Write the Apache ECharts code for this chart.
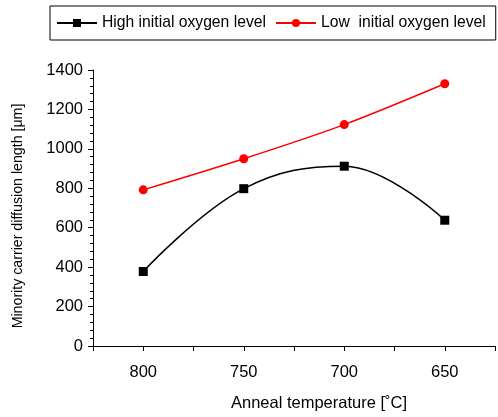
<!DOCTYPE html>
<html>
<head>
<meta charset="utf-8">
<script src="https://cdn.jsdelivr.net/npm/echarts@6/dist/echarts.min.js"></script>
<style>
html,body{margin:0;padding:0;background:#fff;}
#chart{width:498px;height:417px;}
</style>
</head>
<body>
<div id="chart"></div>
<script>
var temperatures = [800, 750, 700, 650];
var highOxygen = [378, 798, 912, 638];
var lowOxygen = [792, 950, 1123, 1330];
var seriesNames = ['High initial oxygen level', 'Low  initial oxygen level'];
var xAxisName = 'Anneal temperature [\u02DAC]';
var yAxisName = 'Minority carrier diffusion length [\u03BCm]';

function pairs(xs, ys) {
  return xs.map(function (x, i) { return [x, ys[i]]; });
}

var FONT = '"Liberation Sans", Arial, sans-serif';
var chart = echarts.init(document.getElementById('chart'), null, { renderer: 'canvas' });
chart.setOption({
  animation: false,
  backgroundColor: '#fff',
  textStyle: { fontFamily: FONT, color: '#000' },
  legend: {
    left: 50,
    top: 6,
    padding: [9, 10, 9, 6],
    borderColor: '#000',
    borderWidth: 1,
    itemWidth: 40,
    itemHeight: 10,
    itemGap: 9,
    textStyle: { fontFamily: FONT, fontSize: 15.7, color: '#000' },
    data: seriesNames
  },
  grid: { left: 93, right: 0, top: 70, bottom: 67, containLabel: false },
  xAxis: {
    type: 'value',
    inverse: true,
    min: 625,
    max: 825,
    interval: 25,
    name: xAxisName,
    nameLocation: 'middle',
    nameGap: 49,
    nameTextStyle: { fontFamily: FONT, fontSize: 16.5, color: '#000', padding: [0, 0, 0, 50] },
    axisLine: { onZero: false, lineStyle: { color: '#000', width: 1 } },
    axisTick: { show: true, length: 5, inside: false, lineStyle: { color: '#000' } },
    axisLabel: {
      margin: 18,
      fontFamily: FONT, fontSize: 16.5, color: '#000',
      formatter: function (v) { return v % 50 === 0 && v >= 650 && v <= 800 ? String(v) : ''; }
    },
    splitLine: { show: false }
  },
  yAxis: {
    type: 'value',
    min: 0,
    max: 1400,
    interval: 200,
    name: yAxisName,
    nameLocation: 'middle',
    nameGap: 68,
    nameTextStyle: { fontFamily: FONT, fontSize: 14.2, color: '#000', padding: [0, 16, 0, 0] },
    axisLine: { show: true, lineStyle: { color: '#000', width: 1 } },
    axisTick: { show: true, length: 5, lineStyle: { color: '#000' } },
    minorTick: { show: true, splitNumber: 5, length: 3, lineStyle: { color: '#000' } },
    axisLabel: {
      margin: 10, fontFamily: FONT, fontSize: 16.5, color: '#000',
      formatter: function (v) { return String(v); }
    },
    splitLine: { show: false }
  },
  series: [
    {
      name: seriesNames[0],
      type: 'line',
      data: pairs(temperatures, highOxygen),
      smooth: 0.4,
      symbol: 'rect',
      symbolSize: 9,
      itemStyle: { color: '#000' },
      lineStyle: { color: '#000', width: 1.5 }
    },
    {
      name: seriesNames[1],
      type: 'line',
      data: pairs(temperatures, lowOxygen),
      smooth: 0.3,
      symbol: 'circle',
      symbolSize: 9,
      itemStyle: { color: '#ff0000' },
      lineStyle: { color: '#ff0000', width: 1.5 }
    }
  ]
});
</script>
</body>
</html>
